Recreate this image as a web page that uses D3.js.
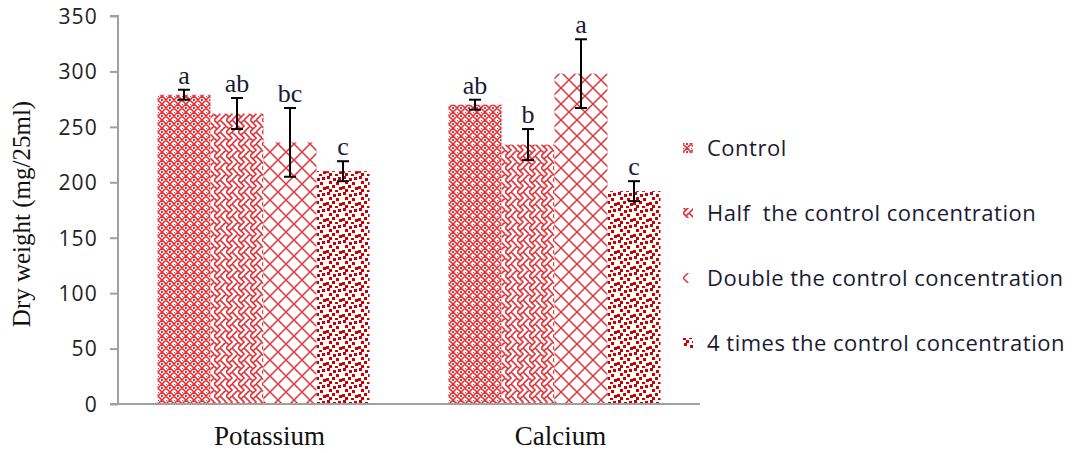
<!DOCTYPE html>
<html>
<head>
<meta charset="utf-8">
<script src="https://cdn.jsdelivr.net/npm/d3@7"></script>
<style>
  html, body { margin: 0; padding: 0; background: #fff; }
  svg { display: block; }
</style>
</head>
<body>
<svg id="chart" width="1075" height="453"></svg>
<script>
const categories = ["Potassium", "Calcium"];
const series = ["Control", "Half  the control concentration", "Double the control concentration", "4 times the control concentration"];
const potassiumValues = [279, 262, 236, 210];
const calciumValues = [270, 234, 298, 192];
const potassiumErrors = [4.5, 14, 31, 9];
const calciumErrors = [4.5, 14, 31, 9];
const potassiumLetters = ["a", "ab", "bc", "c"];
const calciumLetters = ["ab", "b", "a", "c"];
const yTicks = [0, 50, 100, 150, 200, 250, 300, 350];

const valuesByCat = [potassiumValues, calciumValues];
const errorsByCat = [potassiumErrors, calciumErrors];
const lettersByCat = [potassiumLetters, calciumLetters];

const svg = d3.select("#chart");
const defs = svg.append("defs");
const RED = "#e2333a";
const DARKRED = "#c80000";

// Control: small lattice
const p0 = defs.append("pattern").attr("id", "pat0").attr("patternUnits", "userSpaceOnUse").attr("width", 8).attr("height", 8);
p0.append("rect").attr("width", 8).attr("height", 8).attr("fill", "#fff");
p0.append("path").attr("d", "M4,0 L8,4 L4,8 L0,4 Z").attr("fill", "none").attr("stroke", RED).attr("stroke-width", 1.6);
p0.append("rect").attr("x", 3).attr("y", 3).attr("width", 2).attr("height", 2).attr("fill", RED);
p0.append("rect").attr("x", 0).attr("y", 0).attr("width", 1).attr("height", 1).attr("fill", RED);

// Half: weave
const p1 = defs.append("pattern").attr("id", "pat1").attr("patternUnits", "userSpaceOnUse").attr("width", 12).attr("height", 12);
p1.append("rect").attr("width", 12).attr("height", 12).attr("fill", "#fff");
p1.append("path").attr("d", "M0,0 L6,6 L0,12 M6,0 L12,6 L6,12 M3,3 L6,0 M9,9 L12,6 M3,9 L0,6").attr("fill", "none").attr("stroke", RED).attr("stroke-width", 1.7);

// Double: large trellis
const p2 = defs.append("pattern").attr("id", "pat2").attr("patternUnits", "userSpaceOnUse").attr("width", 16).attr("height", 16);
p2.append("rect").attr("width", 16).attr("height", 16).attr("fill", "#fff");
p2.append("path").attr("d", "M0,0 L16,16 M16,0 L0,16").attr("fill", "none").attr("stroke", RED).attr("stroke-width", 1.5);

// 4x: confetti
const p3 = defs.append("pattern").attr("id", "pat3").attr("patternUnits", "userSpaceOnUse").attr("width", 16).attr("height", 16);
p3.append("rect").attr("width", 16).attr("height", 16).attr("fill", "#fff");
[[1,0],[7,2],[12,1],[3,5],[10,6],[0,10],[6,9],[13,11],[3,13],[9,14]].forEach(([x,y]) => {
  p3.append("rect").attr("x", x).attr("y", y).attr("width", 3).attr("height", 3).attr("fill", DARKRED);
});

const plotLeft = 118, plotRight = 700, plotTop = 16, plotBottom = 404;

const x0 = d3.scaleBand().domain(categories).range([plotLeft, plotRight]).paddingInner(0).paddingOuter(0);
const x1 = d3.scaleBand().domain(series).range([0, x0.bandwidth()]).paddingInner(0).paddingOuter(0.745);
const y = d3.scaleLinear().domain([0, 350]).range([plotBottom, plotTop]);

// Bars
categories.forEach((cat, ci) => {
  const g = svg.append("g").attr("transform", `translate(${x0(cat)},0)`);
  series.forEach((s, si) => {
    const v = valuesByCat[ci][si];
    g.append("rect")
      .attr("x", x1(s))
      .attr("y", y(v))
      .attr("width", x1.bandwidth())
      .attr("height", y(0) - y(v))
      .attr("fill", `url(#pat${si})`);
  });
  // error bars
  series.forEach((s, si) => {
    const v = valuesByCat[ci][si];
    const e = errorsByCat[ci][si];
    const cx = x1(s) + x1.bandwidth() / 2;
    g.append("line").attr("x1", cx).attr("x2", cx).attr("y1", y(v + e)).attr("y2", y(v - e)).attr("stroke", "#000").attr("stroke-width", 2);
    g.append("line").attr("x1", cx - 6).attr("x2", cx + 6).attr("y1", y(v + e)).attr("y2", y(v + e)).attr("stroke", "#000").attr("stroke-width", 2);
    g.append("line").attr("x1", cx - 6).attr("x2", cx + 6).attr("y1", y(v - e)).attr("y2", y(v - e)).attr("stroke", "#000").attr("stroke-width", 2);
    g.append("text")
      .attr("x", cx)
      .attr("y", y(v + e) - 6)
      .attr("text-anchor", "middle")
      .attr("font-family", "'Liberation Serif', 'Times New Roman', serif")
      .attr("font-size", 26)
      .attr("fill", "#1a1a33")
      .text(lettersByCat[ci][si]);
  });
});

// Y axis
const yAxis = d3.axisLeft(y).tickValues(yTicks).tickSize(8).tickPadding(12).tickFormat(d3.format("d"));
const ya = svg.append("g").attr("transform", `translate(${plotLeft},0)`).call(yAxis);
ya.select(".domain").attr("stroke", "#a0a0a0").attr("stroke-width", 2).attr("d", `M-8,${plotTop}H0V${plotBottom}`);
ya.selectAll(".tick line").attr("stroke", "#a0a0a0").attr("stroke-width", 2);
ya.selectAll(".tick text").attr("font-family", "'Open Sans', sans-serif").attr("font-size", 21)
  .attr("letter-spacing", 1.2).attr("fill", "#222").attr("dy", "0.35em");

// X axis
const xAxis = d3.axisBottom(x0).tickSize(0).tickPadding(0);
const xa = svg.append("g").attr("transform", `translate(0,${plotBottom})`).call(xAxis);
xa.select(".domain").attr("stroke", "#a0a0a0").attr("stroke-width", 2).attr("d", `M${plotLeft - 8},0H${plotRight}`);
xa.selectAll(".tick text")
  .attr("font-family", "'Liberation Serif', 'Times New Roman', serif")
  .attr("font-size", 27).attr("fill", "#111")
  .attr("dy", 0).attr("y", 41).attr("dx", 6);

// Y label
svg.append("text")
  .attr("transform", `translate(30,${(plotTop + plotBottom) / 2 + 4}) rotate(-90)`)
  .attr("text-anchor", "middle")
  .attr("font-family", "'Liberation Serif', 'Times New Roman', serif")
  .attr("font-size", 25)
  .attr("fill", "#111")
  .text("Dry weight (mg/25ml)");

// Legend
const legend = svg.append("g").attr("transform", "translate(683,148)");
series.forEach((s, i) => {
  const row = legend.append("g").attr("transform", `translate(0,${i * 65})`);
  row.append("rect").attr("x", 0).attr("y", -5).attr("width", 10).attr("height", 10).attr("fill", `url(#pat${i})`);
  row.append("text").attr("x", 24).attr("y", 0).attr("dy", "0.35em")
    .attr("font-family", "'Open Sans', sans-serif").attr("font-size", 22).attr("letter-spacing", 0.5).attr("fill", "#1a1a33")
    .text(s).style("white-space", "pre");
});
</script>
</body>
</html>
